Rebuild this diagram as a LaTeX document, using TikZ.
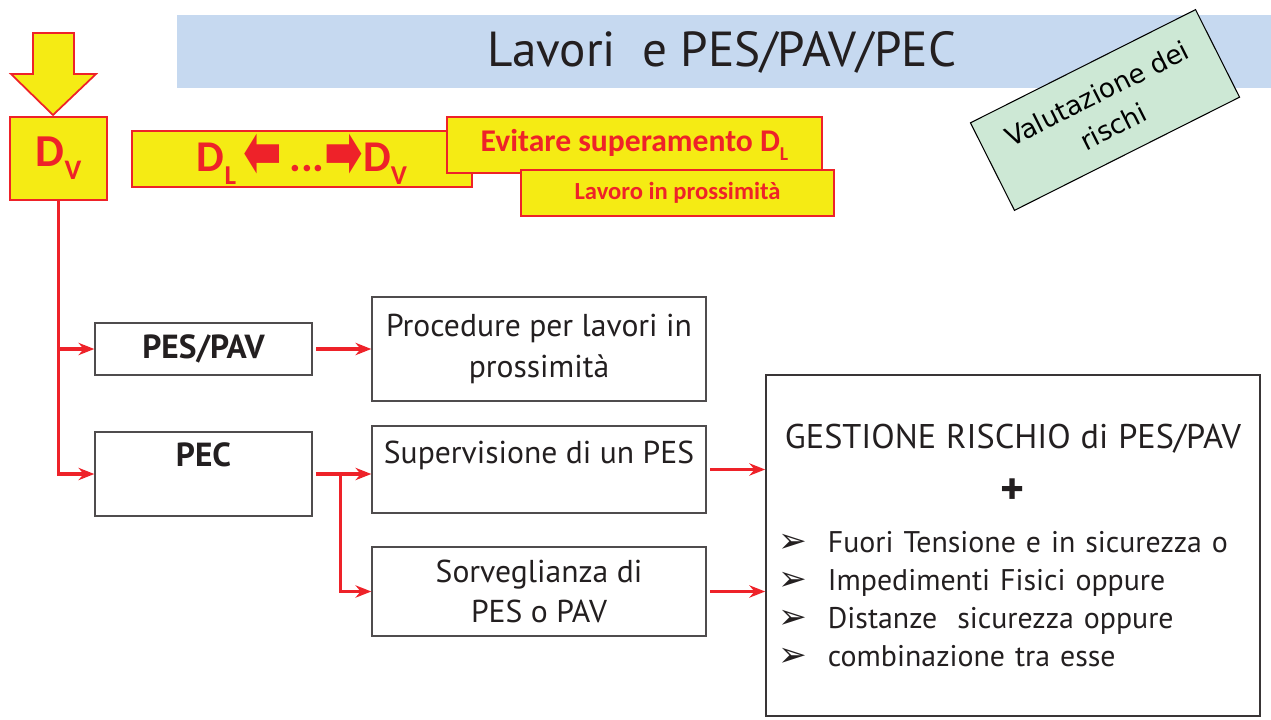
\documentclass[tikz,border=0pt]{standalone}
\usepackage{fontspec}
\setmainfont{PT Sans}
\newfontfamily\calibfont{Carlito}
\newfontfamily\dejafont{DejaVu Sans}
\usetikzlibrary{arrows.meta}
\definecolor{boxyellow}{HTML}{F5EB14}
\definecolor{linered}{HTML}{EE2229}
\definecolor{bandblue}{HTML}{C6D9F0}
\definecolor{notegreen}{HTML}{CDE8D5}
\definecolor{textgray}{HTML}{231F20}
\tikzset{
  every picture/.style={>={Stealth[length=9pt,width=7pt]}},
  redline/.style={draw=linered, line width=2pt, ->, shorten <=2pt}}
\newcommand{\lowsub}[1]{\raisebox{-0.28em}{\scalebox{0.62}{#1}}}
\newcommand{\fsz}[1]{\fontsize{#1}{1.27\dimexpr #1pt\relax}\selectfont}
\newcommand{\fatarrow}[1]{\raisebox{-0.12em}{\scalebox{1.05}[1.7]{\dejafont\bfseries #1}}}
\newcommand{\bul}{{\dejafont\scalebox{1.15}{➢}}\hspace{12pt}}

\begin{document}
\begin{tikzpicture}[x=0.02cm, y=-0.02cm]
    \tikzstyle{yellowbox}=[draw=linered, fill=boxyellow, line width=1pt, text=linered,
      font=\calibfont\bfseries, inner sep=0pt]
    \tikzstyle{plainbox}=[draw=textgray!80, line width=0.8pt, text=textgray,
      inner sep=0pt, align=center, font=\fsz{18}]

    \useasboundingbox (0,0) rectangle (1271,720);

    % title band
    \fill[bandblue] (177,15) rectangle (1271,88);
    \node[text=textgray, font=\fsz{28}] (title) at (722,52) {Lavori\ \ e PES/PAV/PEC};

    % incoming arrow
    \draw[draw=linered, fill=boxyellow, line width=1pt]
      (33,33) -- (74,33) -- (74,74) -- (96,74) -- (53,115) -- (11,74) -- (33,74) -- cycle;

    \begin{scope}
      \node[yellowbox, minimum width=1.94cm, minimum height=1.66cm, font=\calibfont\bfseries\fsz{26}]
        (Dv) at (58.5,158.5) {D\lowsub{V}};
      \node[yellowbox, minimum width=6.8cm, minimum height=1.12cm, font=\calibfont\bfseries\fsz{25}]
        (DL) at (302,159) {D\lowsub{L}\,\fatarrow{⬅}\,...\fatarrow{➡}D\lowsub{V}};
      \node[yellowbox, minimum width=7.5cm, minimum height=1.12cm, font=\calibfont\bfseries\fsz{18}]
        (avoid) at (634.5,145) {Evitare superamento D\lowsub{L}};
      \node[yellowbox, minimum width=6.26cm, minimum height=0.92cm, font=\calibfont\bfseries\fsz{14}]
        (near) at (677.5,193) {Lavoro in prossimità};
    \end{scope}

    \node[draw=black, fill=notegreen, line width=0.6pt, rotate=26.7, minimum width=5.04cm,
      minimum height=1.96cm, align=center, font=\dejafont\fontsize{15}{21}\selectfont, text=black]
      (risk) at (1105,110) {Valutazione dei\\ rischi};

    \begin{scope}
      \node[plainbox, minimum width=4.34cm, minimum height=1.04cm, font=\fsz{19}\bfseries]
        (pespav) at (203.5,349) {PES/PAV};
      \node[plainbox, minimum width=4.34cm, minimum height=1.68cm, font=\fsz{19}\bfseries]
        (pec) at (203.5,474) {PEC\\[-9pt] \strut};
      \node[plainbox, minimum width=6.68cm, minimum height=2.08cm]
        (proc) at (539,349) {Procedure per lavori in\\ prossimità};
      \node[plainbox, minimum width=6.68cm, minimum height=1.74cm]
        (sup) at (539,469.5) {Supervisione di un PES\\[-10pt] \strut};
      \node[plainbox, minimum width=6.68cm, minimum height=1.78cm]
        (sorv) at (539,591.5) {Sorveglianza di\\ PES o PAV};
      \node[plainbox, draw=textgray!90, line width=1pt, minimum width=9.88cm, minimum height=6.82cm,
        text width=9.4cm, align=left, font=\fsz{17}]
        (gest) at (1013,545.5) {%
          \makebox[\linewidth][c]{\fsz{19.5}GESTIONE RISCHIO di PES/PAV}\\[10pt]
          \makebox[\linewidth][c]{\fsz{26}\bfseries +}\\[6pt]
          \bul Fuori Tensione e in sicurezza o\\
          \bul Impedimenti Fisici oppure\\
          \bul Distanze\ \ sicurezza oppure\\
          \bul combinazione tra esse};
    \end{scope}

    % red connectors
    \draw[redline, shorten <=0pt] (Dv.south) |- (pec.west);
    \draw[redline, shorten <=0pt] (Dv.south |- pespav.west) -- (pespav.west);
    \draw[redline] (pespav.east) -- (pespav.east -| proc.west);
    \draw[redline] (pec.east) -- (pec.east -| sup.west);
    \draw[redline, shorten <=0pt] ([xshift=0.56cm]pec.east) |- (sorv.west);
    \draw[redline] (sup.east) -- (sup.east -| gest.west);
    \draw[redline] (sorv.east) -- (sorv.east -| gest.west);
\end{tikzpicture}
\end{document}
